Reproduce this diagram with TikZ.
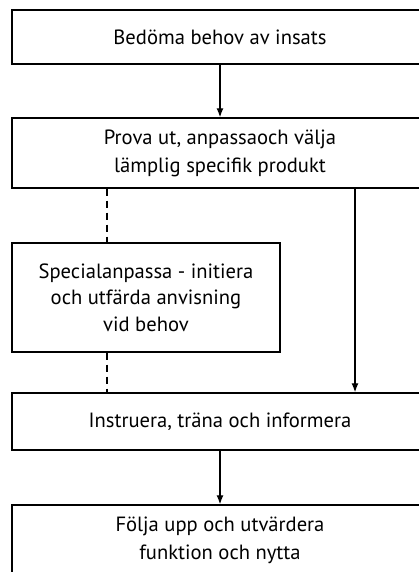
\documentclass[tikz,border=0pt]{standalone}
\usepackage{fontspec}
\setmainfont{PT Sans}
\usetikzlibrary{arrows.meta,positioning,calc}

\begin{document}
\begin{tikzpicture}[
    x=1pt, y=-1pt,
    stepbox/.style={rectangle, draw, line width=1.4pt, minimum width=416pt, align=center, font=\fontsize{20.6}{28}\selectfont, inner sep=0pt},
    sidebox/.style={rectangle, draw, line width=1.4pt, minimum width=268pt, minimum height=109pt, align=center, font=\fontsize{20.6}{26.5}\selectfont, inner sep=0pt},
    arrow/.style={-{Latex[length=9pt,width=7pt]}, line width=1.3pt},
    optional/.style={line width=1.3pt, dash pattern=on 7pt off 5pt}
]
\useasboundingbox[fill=white] (0,0) rectangle (418,572);

% Steps
\node[stepbox, minimum height=54pt] (assess) at (220, 37) {Bedöma behov av insats};
\node[stepbox, minimum height=70pt] (fit) at (220, 153) {Prova ut, anpassaoch välja\\lämplig specifik produkt};
\node[sidebox] (special) at (146, 297.5) {Specialanpassa - initiera\\och utfärda anvisning\\vid behov};
\node[stepbox, minimum height=57pt] (train) at (220, 421.5) {Instruera, träna och informera};
\node[stepbox, minimum height=70pt] (follow) at (220, 540) {Följa upp och utvärdera\\funktion och nytta};

% Columns for the side connectors
\coordinate (lcol) at (107, 0);
\coordinate (rcol) at (355, 0);

% Flow
\draw[arrow] (assess) -- (fit);
\draw[arrow] (fit.south -| rcol) -- (train.north -| rcol);
\draw[arrow] (train) -- (follow);

% Optional path
\draw[optional] (fit.south -| lcol) -- (special.north -| lcol);
\draw[optional] (special.south -| lcol) -- (train.north -| lcol);

\end{tikzpicture}
\end{document}
